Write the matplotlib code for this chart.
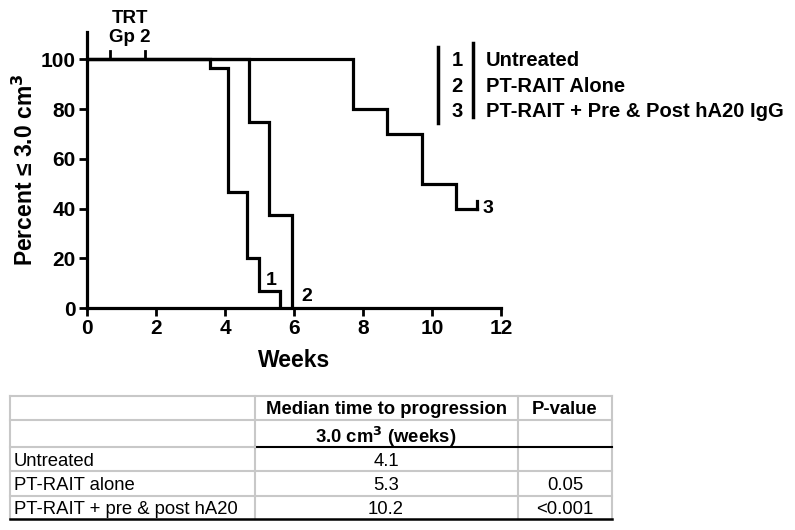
import matplotlib.pyplot as plt
from matplotlib.lines import Line2D

plt.rcParams['font.family'] = ['Liberation Sans', 'DejaVu Sans']

# ----------- DATA -----------
t_untreated = [0, 3.57, 4.09, 4.63, 4.99, 5.59]
s_untreated = [100, 96.7, 46.7, 20, 6.7, 0]

t_rait = [0, 4.70, 5.28, 5.93]
s_rait = [100, 75, 37.5, 0]

t_combo = [0, 7.72, 8.71, 9.70, 10.71, 11.31]
s_combo = [100, 80, 70, 50, 40, 40]

trt_weeks = [0.67, 1.68]

legend_nums = ["1", "2", "3"]
legend_names = ["Untreated", "PT-RAIT Alone", "PT-RAIT + Pre & Post hA20 IgG"]

table_groups = ["Untreated", "PT-RAIT alone", "PT-RAIT + pre & post hA20"]
table_median = ["4.1", "5.3", "10.2"]
table_p = ["", "0.05", "<0.001"]

W, H = 795, 530
fig = plt.figure(figsize=(W / 100, H / 100), dpi=100)


def fx(px):
    return px / W


def fy(py):
    return 1 - py / H


# ----------- PLOT -----------
ax = fig.add_axes([fx(87), fy(308), fx(501) - fx(87), fy(32) - fy(308)])
lw = 2.3
ax.step(t_untreated, s_untreated, where='post', color='black', lw=lw, solid_joinstyle='miter')
ax.step(t_rait, s_rait, where='post', color='black', lw=lw, solid_joinstyle='miter')
ax.step(t_combo, s_combo, where='post', color='black', lw=lw, solid_joinstyle='miter')
ax.plot([t_combo[-1], t_combo[-1]], [s_combo[-1], s_combo[-1] + 3], color='black', lw=lw)
for w in trt_weeks:
    ax.plot([w, w], [100, 103.3], color='black', lw=2)

ax.text(5.33, 11, "1", fontsize=14, fontweight='bold', ha='center', va='center')
ax.text(6.37, 4.5, "2", fontsize=14, fontweight='bold', ha='center', va='center')
ax.text(11.62, 40, "3", fontsize=14, fontweight='bold', ha='center', va='center')
ax.text(1.25, 105.5, "TRT\nGp 2", fontsize=13.5, fontweight='bold', ha='center',
        va='bottom', linespacing=1.1, clip_on=False)

ax.set_xlim(0, 12)
ax.set_ylim(0, 111)
ax.set_xticks(range(0, 13, 2))
ax.set_yticks(range(0, 101, 20))
for s in ['top', 'right']:
    ax.spines[s].set_visible(False)
for s in ['left', 'bottom']:
    ax.spines[s].set_linewidth(2.3)
ax.tick_params(width=2, length=6, labelsize=15, pad=2)
for lab in ax.get_xticklabels() + ax.get_yticklabels():
    lab.set_fontweight('bold')
ax.set_xlabel("Weeks", fontsize=16.5, fontweight='bold', labelpad=8)
ax.set_ylabel("Percent \u2264 3.0 cm$^{\\mathbf{3}}$", fontsize=16.5, fontweight='bold', labelpad=2)

# ----------- LEGEND -----------
fig.add_artist(Line2D([fx(438), fx(438)], [fy(47), fy(123)], color='black', lw=2.5))
fig.add_artist(Line2D([fx(473), fx(473)], [fy(43), fy(117)], color='black', lw=2.5))
for i, (n, name) in enumerate(zip(legend_nums, legend_names)):
    y = fy(61 + i * 25)
    fig.text(fx(457), y, n, fontsize=14.5, fontweight='bold', ha='center', va='center')
    fig.text(fx(486), y, name, fontsize=14.5, fontweight='bold', ha='left', va='center')

# ----------- TABLE -----------
cols = [10, 255, 518, 612]
rows = [396, 420, 447, 471, 496, 519]
grey = '#c8c8c8'
for r in rows:
    if r in (447, 519):
        continue
    fig.add_artist(Line2D([fx(cols[0]), fx(cols[-1])], [fy(r), fy(r)], color=grey, lw=1.5))
for c in cols:
    fig.add_artist(Line2D([fx(c), fx(c)], [fy(rows[0]), fy(rows[-1])], color=grey, lw=1.5))
fig.add_artist(Line2D([fx(cols[1]), fx(cols[-1])], [fy(447), fy(447)], color='black', lw=1.5))
fig.add_artist(Line2D([fx(cols[0]), fx(cols[1])], [fy(447), fy(447)], color=grey, lw=1.5))
fig.add_artist(Line2D([fx(cols[0]), fx(cols[-1])], [fy(519), fy(519)], color='black', lw=1.8))

fs = 13.3
fig.text(fx(386), fy(408), "Median time to progression", fontsize=fs, fontweight='bold',
         ha='center', va='center_baseline')
fig.text(fx(386), fy(434), "3.0 cm$^{\\mathbf{3}}$ (weeks)", fontsize=fs, fontweight='bold',
         ha='center', va='center_baseline')
fig.text(fx(565), fy(408), "P-value", fontsize=fs, fontweight='bold', ha='center',
         va='center_baseline')
for i in range(3):
    y = fy((rows[i + 2] + rows[i + 3]) / 2)
    fig.text(fx(14), y, table_groups[i], fontsize=fs, ha='left', va='center_baseline')
    fig.text(fx(386), y, table_median[i], fontsize=fs, ha='center', va='center_baseline')
    fig.text(fx(565), y, table_p[i], fontsize=fs, ha='center', va='center_baseline')

fig.savefig("out.png", dpi=100)
